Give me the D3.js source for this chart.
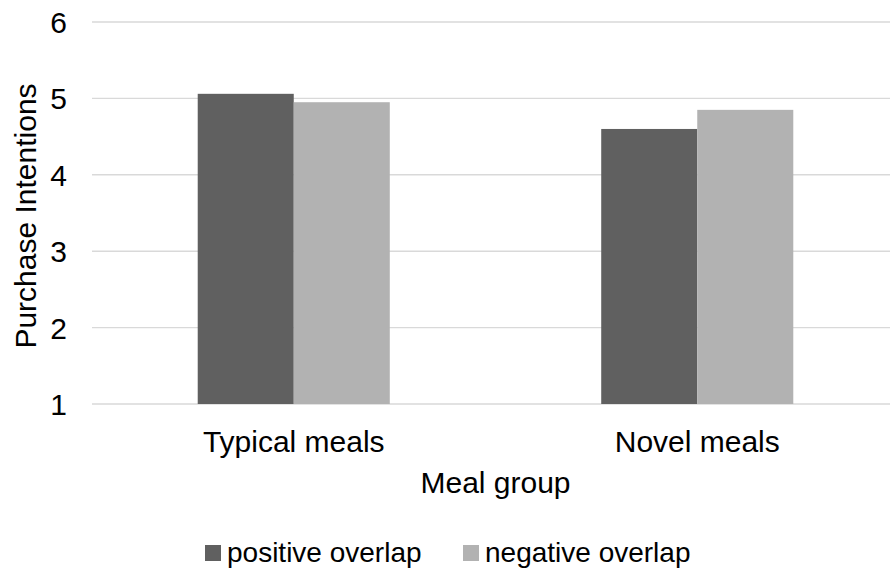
<!DOCTYPE html>
<html>
<head>
<meta charset="utf-8">
<script src="https://cdn.jsdelivr.net/npm/d3@7"></script>
<style>
  html, body { margin: 0; padding: 0; background: #fff; }
  svg { display: block; font-family: "Liberation Sans", Arial, sans-serif; }
</style>
</head>
<body>
<svg id="chart" width="890" height="574"></svg>
<script>
// Meal groups and the two overlap conditions
const categories = ["Typical meals", "Novel meals"];
const seriesNames = ["positive overlap", "negative overlap"];
const positiveOverlap = [5.06, 4.60];
const negativeOverlap = [4.95, 4.85];
const yTicks = [1, 2, 3, 4, 5, 6];
const seriesColors = ["#606060", "#b2b2b2"];

const seriesValues = [positiveOverlap, negativeOverlap];
const rows = categories.map((c, i) => ({
  category: c,
  values: seriesNames.map((s, j) => ({ series: s, value: seriesValues[j][i], idx: j }))
}));

const svg = d3.select("#chart");
const plot = { left: 92, right: 899, top: 22, bottom: 404 };

const y = d3.scaleLinear().domain([1, 6]).range([plot.bottom, plot.top]);
const x0 = d3.scaleBand().domain(categories).range([plot.left, plot.right]);
const bw = x0.bandwidth();
const x1 = d3.scaleBand().domain(seriesNames).range([bw * 0.262, bw * 0.738]);
const color = d3.scaleOrdinal().domain(seriesNames).range(seriesColors);

// horizontal gridlines
svg.append("g")
  .selectAll("line")
  .data(yTicks)
  .join("line")
  .attr("x1", plot.left).attr("x2", plot.right)
  .attr("y1", d => y(d)).attr("y2", d => y(d))
  .attr("stroke", "#d9d9d9").attr("stroke-width", 1.4);

// y axis labels
const yAxis = d3.axisLeft(y).tickValues(yTicks).tickSize(0).tickPadding(0).tickFormat(d3.format("d"));
svg.append("g")
  .attr("transform", `translate(67,0)`)
  .call(yAxis)
  .call(g => g.select(".domain").remove())
  .call(g => g.selectAll("text")
    .attr("font-size", 30)
    .attr("font-family", "Liberation Sans, Arial, sans-serif")
    .attr("fill", "#000")
    .attr("dy", "0.35em"));

// bars
svg.append("g")
  .selectAll("g")
  .data(rows)
  .join("g")
  .attr("transform", d => `translate(${x0(d.category)},0)`)
  .selectAll("rect")
  .data(d => d.values)
  .join("rect")
  .attr("x", d => x1(d.series))
  .attr("width", x1.bandwidth())
  .attr("y", d => y(d.value))
  .attr("height", d => y(1) - y(d.value))
  .attr("fill", d => color(d.series));

// category labels
const xAxis = d3.axisBottom(x0).tickSize(0).tickPadding(0);
svg.append("g")
  .attr("transform", `translate(0,${plot.bottom})`)
  .call(xAxis)
  .call(g => g.select(".domain").remove())
  .call(g => g.selectAll("text")
    .attr("font-size", 30)
    .attr("font-family", "Liberation Sans, Arial, sans-serif")
    .attr("fill", "#000")
    .attr("y", 48)
    .attr("dy", 0));

// axis titles
svg.append("text")
  .attr("x", (plot.left + plot.right) / 2).attr("y", 493)
  .attr("text-anchor", "middle")
  .attr("font-size", 30)
  .text("Meal group");

svg.append("text")
  .attr("transform", "translate(36,216) rotate(-90)")
  .attr("text-anchor", "middle")
  .attr("font-size", 30)
  .text("Purchase Intentions");

// legend
const legendX = [205, 463];
const legend = svg.append("g")
  .selectAll("g")
  .data(seriesNames)
  .join("g")
  .attr("transform", (d, i) => `translate(${legendX[i]},545)`);
legend.append("rect")
  .attr("width", 16).attr("height", 16)
  .attr("fill", d => color(d));
legend.append("text")
  .attr("x", 22).attr("y", 17)
  .attr("font-size", 28)
  .text(d => d);
</script>
</body>
</html>
